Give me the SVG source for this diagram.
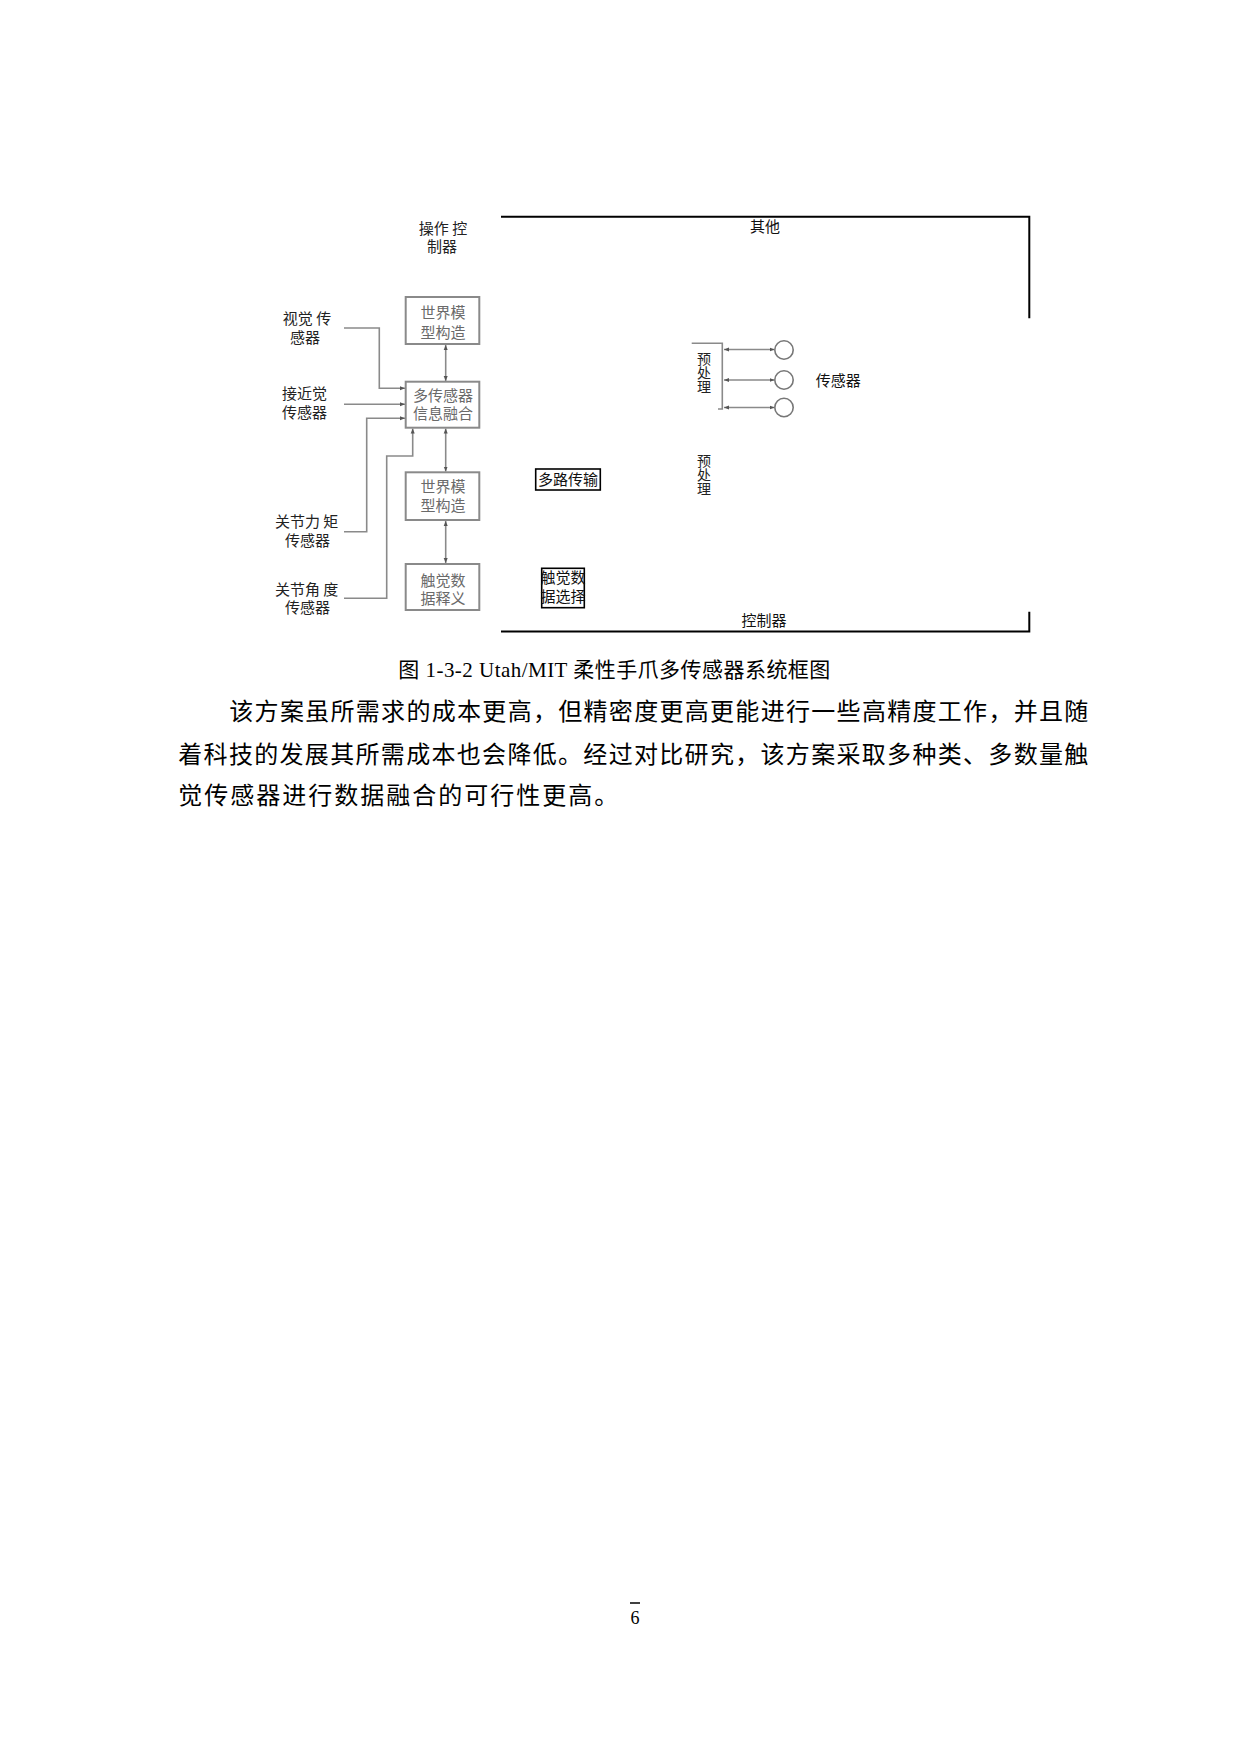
<svg xmlns="http://www.w3.org/2000/svg" width="1240" height="1754" viewBox="0 0 1240 1754">
<style>
.lbl{font-family:"Noto Sans CJK SC","Liberation Sans",sans-serif;font-size:15px;fill:#222;text-anchor:middle}
.btx{font-family:"Noto Sans CJK SC","Liberation Sans",sans-serif;font-size:15px;fill:#6a6a6a;text-anchor:middle}
.blk{font-family:"Noto Sans CJK SC","Liberation Sans",sans-serif;font-size:15px;fill:#111;text-anchor:middle}
.vt{font-family:"Noto Sans CJK SC","Liberation Sans",sans-serif;font-size:14px;fill:#222;writing-mode:vertical-rl}
.box{fill:#fff;stroke:#8a8a8a;stroke-width:2}
.bbox{fill:#fff;stroke:#000;stroke-width:1.6}
.ln{fill:none;stroke:#8a8a8a;stroke-width:1.6}
.frame{fill:none;stroke:#000;stroke-width:2}
.body{font-family:"Liberation Serif","Noto Sans CJK SC",serif;font-size:24px;fill:#000}
.cap{font-family:"Liberation Serif","Noto Sans CJK SC",serif;font-size:21px;fill:#000}
</style>
<defs>
<marker id="ah" viewBox="0 0 10 10" refX="10" refY="5" markerWidth="5" markerHeight="5" orient="auto-start-reverse" markerUnits="userSpaceOnUse">
<path d="M0,1 L10,5 L0,9 Z" fill="#555"/>
</marker>
</defs>
<rect width="1240" height="1754" fill="#fff"/>

<g id="frame">
<path class="frame" d="M501,216.7 H1029.3 V318.3"/>
<path class="frame" d="M501,631.5 H1029.3 V611.7"/>
</g>

<g id="connectors">
<path class="ln" d="M344,328 H379.3 V388.3 H405" marker-end="url(#ah)"/>
<path class="ln" d="M344,404.3 H405" marker-end="url(#ah)"/>
<path class="ln" d="M344,531.7 H366.7 V418.3 H405" marker-end="url(#ah)"/>
<path class="ln" d="M344,598.3 H386.7 V456 H412.7 V428.5" marker-end="url(#ah)"/>
<path class="ln" d="M445.7,345 V381" marker-start="url(#ah)" marker-end="url(#ah)"/>
<path class="ln" d="M445.7,428.5 V471.5" marker-start="url(#ah)" marker-end="url(#ah)"/>
<path class="ln" d="M445.7,521 V563" marker-start="url(#ah)" marker-end="url(#ah)"/>
<path class="ln" d="M691.7,343.3 H722.3 V409 H718"/>
<path class="ln" d="M724,349.5 H774.5" marker-start="url(#ah)" marker-end="url(#ah)"/>
<path class="ln" d="M724,380 H774.5" marker-start="url(#ah)" marker-end="url(#ah)"/>
<path class="ln" d="M724,407.5 H774.5" marker-start="url(#ah)" marker-end="url(#ah)"/>
</g>

<g id="op-ctrl">
<text class="lbl" x="443" y="233.5">操作 控</text>
<text class="lbl" x="442" y="252">制器</text>
</g>
<g id="vision">
<text class="lbl" x="307" y="324">视觉 传</text>
<text class="lbl" x="305" y="342.5">感器</text>
</g>
<g id="proximity">
<text class="lbl" x="304.5" y="398.5">接近觉</text>
<text class="lbl" x="304.5" y="417.5">传感器</text>
</g>
<g id="torque">
<text class="lbl" x="306.7" y="527">关节力 矩</text>
<text class="lbl" x="307.5" y="545.5">传感器</text>
</g>
<g id="angle">
<text class="lbl" x="306.7" y="594.5">关节角 度</text>
<text class="lbl" x="307.5" y="612.5">传感器</text>
</g>

<g id="world1">
<rect class="box" x="405.7" y="297" width="73.6" height="47"/>
<text class="btx" x="443" y="317.5">世界模</text>
<text class="btx" x="443" y="338">型构造</text>
</g>
<g id="fusion">
<rect class="box" x="405.7" y="381.7" width="73.6" height="46"/>
<text class="btx" x="443" y="400.5">多传感器</text>
<text class="btx" x="443" y="419">信息融合</text>
</g>
<g id="world2">
<rect class="box" x="405.7" y="472.3" width="73.6" height="47.7"/>
<text class="btx" x="443" y="492">世界模</text>
<text class="btx" x="443" y="510.5">型构造</text>
</g>
<g id="tactile-interp">
<rect class="box" x="405.7" y="564" width="73.6" height="46"/>
<text class="btx" x="443" y="585.5">触觉数</text>
<text class="btx" x="443" y="603.5">据释义</text>
</g>

<g id="other">
<text class="blk" x="765" y="231.5">其他</text>
</g>
<g id="controller">
<text class="blk" x="764" y="626">控制器</text>
</g>
<g id="multiplex">
<rect class="bbox" x="535.7" y="469" width="64.6" height="21"/>
<text class="blk" x="568" y="485">多路传输</text>
</g>
<g id="tactile-select">
<rect class="bbox" x="541.7" y="568.3" width="42.6" height="39.4"/>
<text class="blk" x="563" y="582.5" font-size="14">触觉数</text>
<text class="blk" x="563" y="602" font-size="14">据选择</text>
</g>
<g id="preproc1">
<text class="vt" x="704" y="351.5">预处理</text>
</g>
<g id="preproc2">
<text class="vt" x="704" y="453.5">预处理</text>
</g>
<g id="sensors">
<circle cx="784" cy="350" r="9.2" fill="#fff" stroke="#777" stroke-width="1.6"/>
<circle cx="784" cy="380" r="9.2" fill="#fff" stroke="#777" stroke-width="1.6"/>
<circle cx="784" cy="407.5" r="9.2" fill="#fff" stroke="#777" stroke-width="1.6"/>
<text class="blk" x="838.3" y="385.5">传感器</text>
</g>

<text class="cap" x="398.3" y="676.5" textLength="432" lengthAdjust="spacing">图 1-3-2 Utah/MIT 柔性手爪多传感器系统框图</text>

<text class="body" x="229.3" y="719.5" textLength="859" lengthAdjust="spacing">该方案虽所需求的成本更高，但精密度更高更能进行一些高精度工作，并且随</text>
<text class="body" x="178.3" y="762.5" textLength="910" lengthAdjust="spacing">着科技的发展其所需成本也会降低。经过对比研究，该方案采取多种类、多数量触</text>
<text class="body" x="178.3" y="803.5" textLength="440" lengthAdjust="spacing">觉传感器进行数据融合的可行性更高。</text>

<line x1="630" y1="1603" x2="640" y2="1603" stroke="#000" stroke-width="1.5"/>
<text x="635" y="1624" font-family="Liberation Serif,serif" font-size="18" text-anchor="middle" fill="#000">6</text>
</svg>
